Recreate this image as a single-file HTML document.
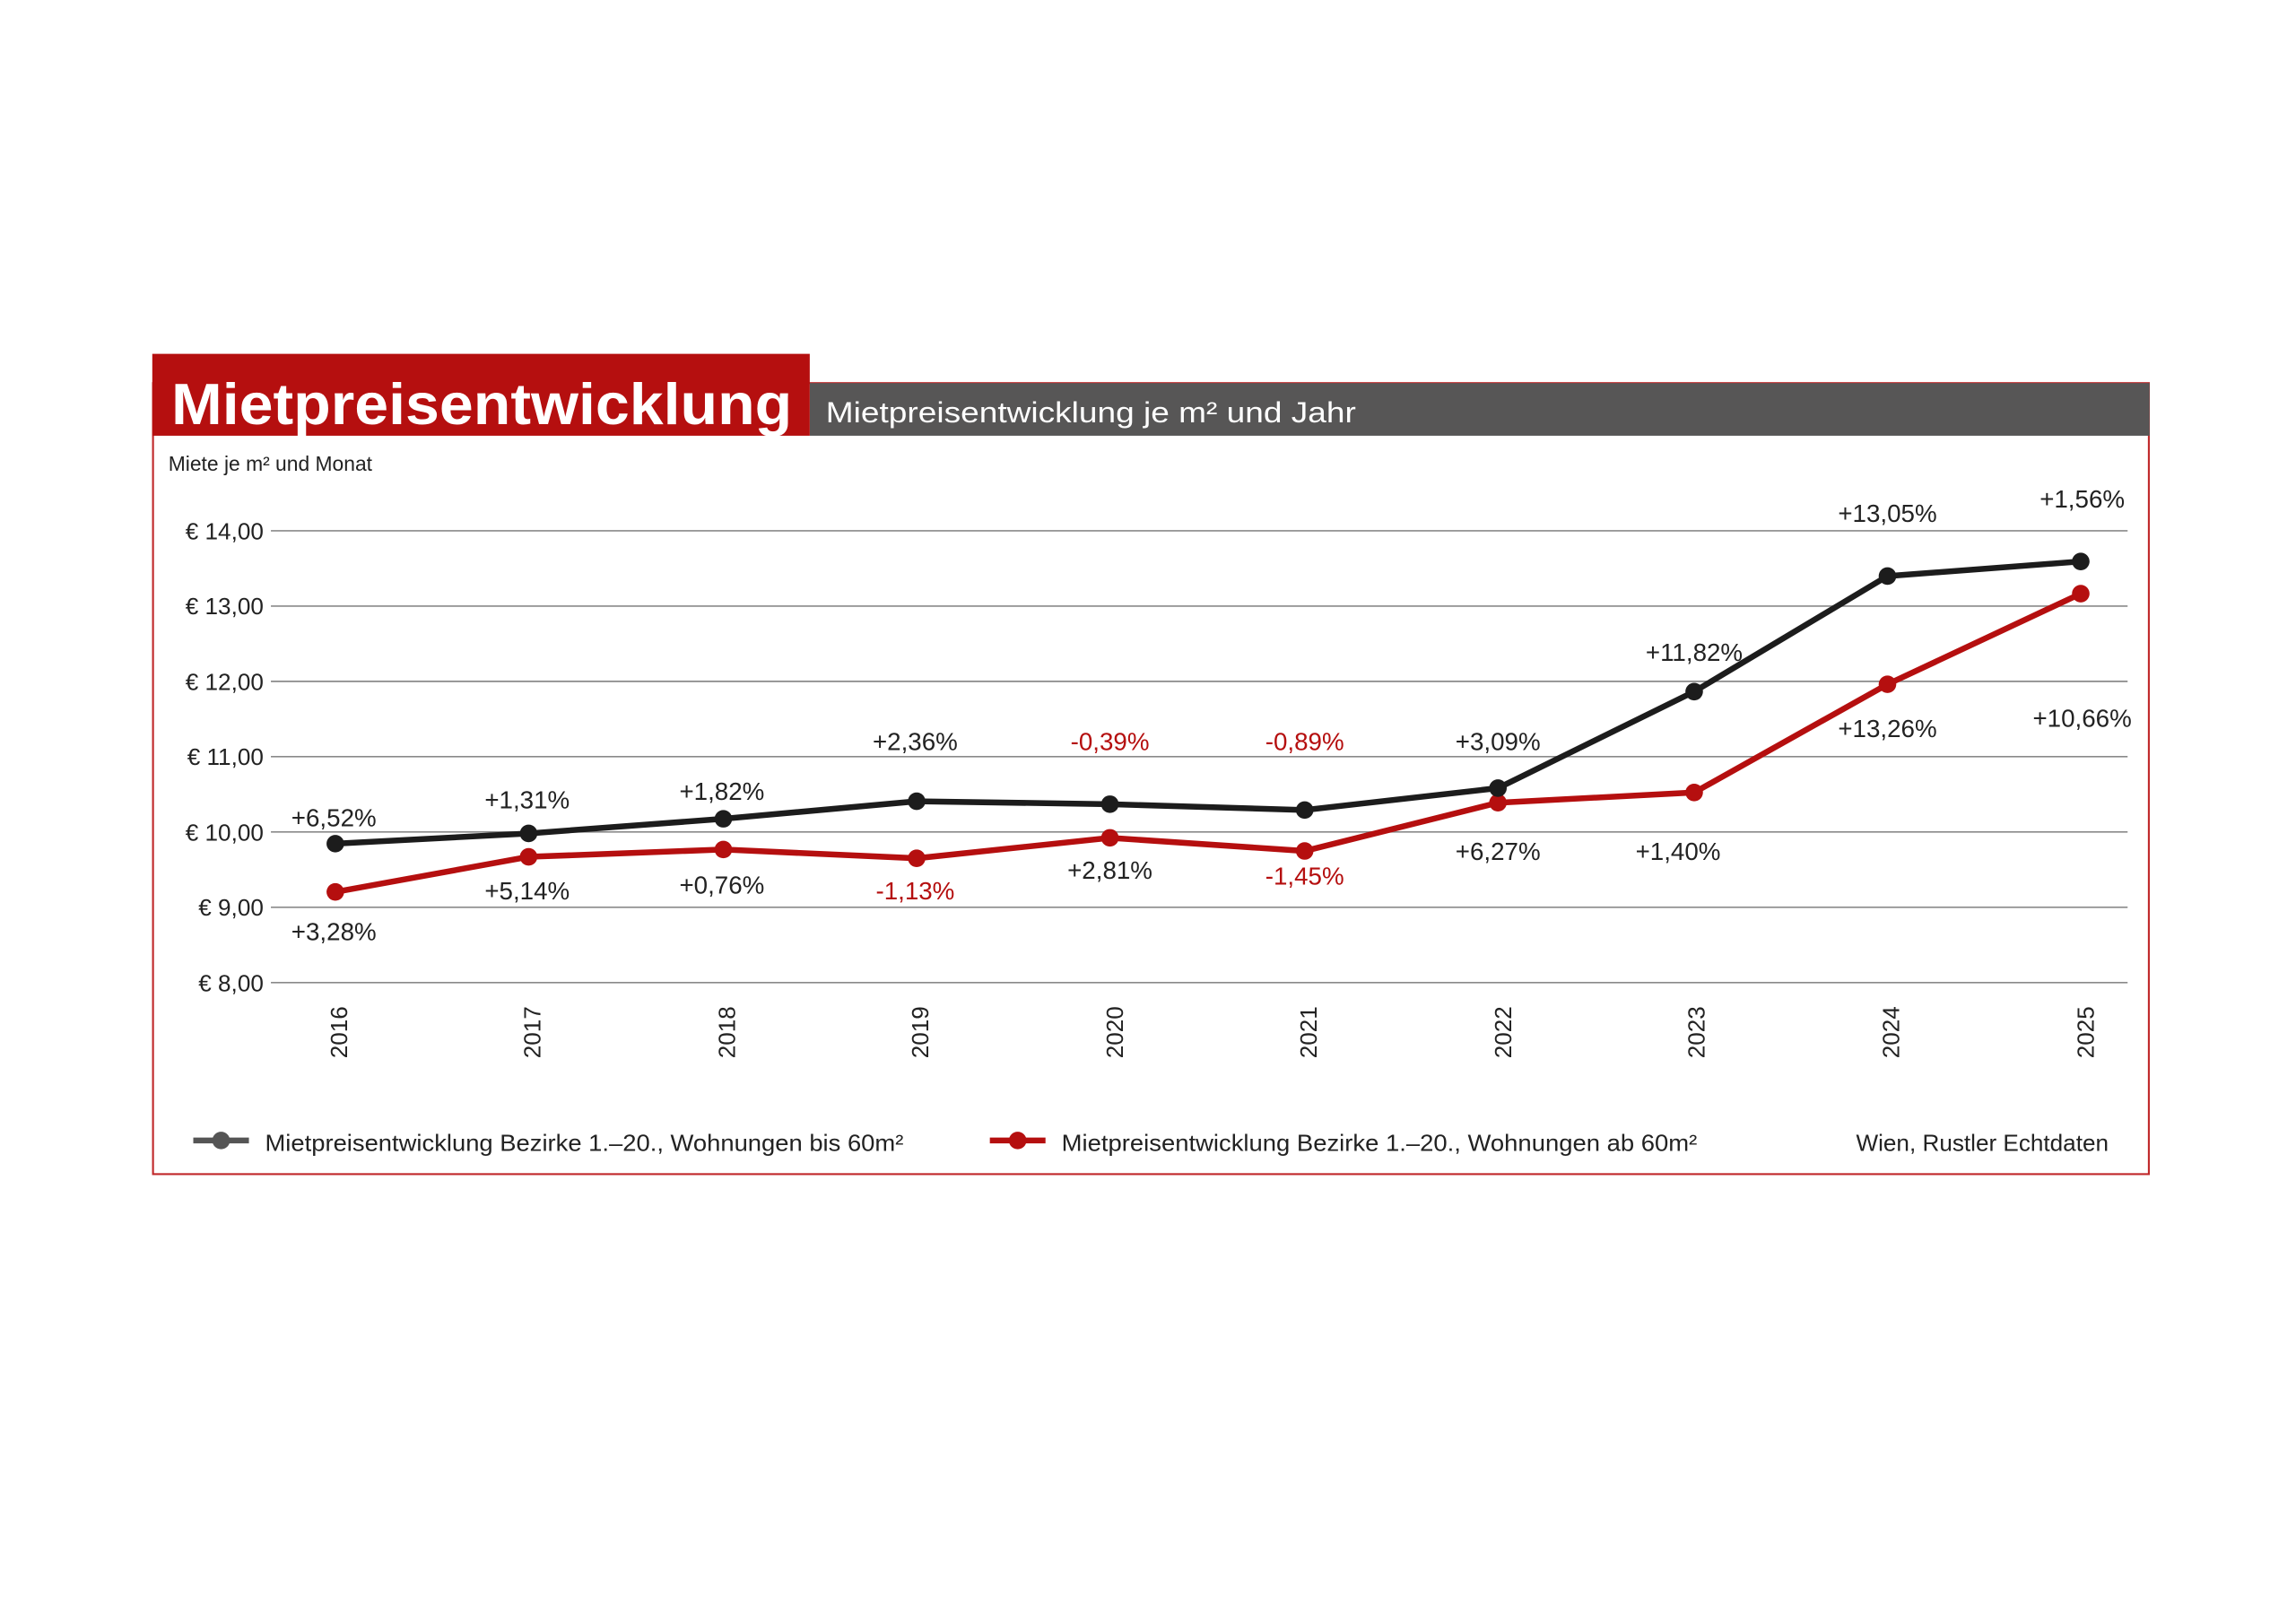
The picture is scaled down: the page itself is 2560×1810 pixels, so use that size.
<!DOCTYPE html>
<html><head><meta charset="utf-8"><style>
html,body{margin:0;padding:0;background:#fff;}
svg{display:block;}
text{font-family:"Liberation Sans",sans-serif;}
</style></head><body>
<svg width="2560" height="1810" viewBox="0 0 1568 1110" preserveAspectRatio="none" xmlns="http://www.w3.org/2000/svg">
<rect x="0" y="0" width="1568" height="1110" fill="#fff"/>
<rect x="104.5" y="262" width="1363" height="541" fill="none" stroke="#c0282a" stroke-width="1.3"/>
<rect x="553" y="262" width="915" height="36" fill="#575656"/>
<rect x="104" y="242" width="449" height="56" fill="#b50f0f"/>
<text x="117" y="290" font-size="40" font-weight="bold" fill="#fff" textLength="424" lengthAdjust="spacingAndGlyphs">Mietpreisentwicklung</text>
<text x="564" y="289" font-size="20" fill="#fff" textLength="362" lengthAdjust="spacingAndGlyphs">Mietpreisentwicklung je m² und Jahr</text>
<text x="115" y="322" font-size="14" fill="#222">Miete je m² und Monat</text>
<g stroke="#8a8a8a" stroke-width="1">
<line x1="185" y1="363" x2="1453" y2="363"/>
<line x1="185" y1="414.5" x2="1453" y2="414.5"/>
<line x1="185" y1="466" x2="1453" y2="466"/>
<line x1="185" y1="517.5" x2="1453" y2="517.5"/>
<line x1="185" y1="569" x2="1453" y2="569"/>
<line x1="185" y1="620.5" x2="1453" y2="620.5"/>
<line x1="185" y1="672" x2="1453" y2="672"/>
</g>
<g font-size="16" fill="#222" text-anchor="end">
<text x="180" y="369">€ 14,00</text>
<text x="180" y="420">€ 13,00</text>
<text x="180" y="472">€ 12,00</text>
<text x="180" y="523">€ 11,00</text>
<text x="180" y="575">€ 10,00</text>
<text x="180" y="626">€ 9,00</text>
<text x="180" y="678">€ 8,00</text>
</g>
<g font-size="16" fill="#222" text-anchor="middle">
<text transform="translate(237,706) rotate(-90)">2016</text>
<text transform="translate(369,706) rotate(-90)">2017</text>
<text transform="translate(502,706) rotate(-90)">2018</text>
<text transform="translate(634,706) rotate(-90)">2019</text>
<text transform="translate(767,706) rotate(-90)">2020</text>
<text transform="translate(899,706) rotate(-90)">2021</text>
<text transform="translate(1032,706) rotate(-90)">2022</text>
<text transform="translate(1164,706) rotate(-90)">2023</text>
<text transform="translate(1297,706) rotate(-90)">2024</text>
<text transform="translate(1430,706) rotate(-90)">2025</text>
</g>
<polyline fill="none" stroke="#b50f0f" stroke-width="4" points="229,610 361,586 494,581 626,587 758,573 891,582 1023,549 1157,542 1289,468 1421,406"/>
<g fill="#b50f0f">
<circle cx="229" cy="610" r="6"/><circle cx="361" cy="586" r="6"/><circle cx="494" cy="581" r="6"/><circle cx="626" cy="587" r="6"/><circle cx="758" cy="573" r="6"/><circle cx="891" cy="582" r="6"/><circle cx="1023" cy="549" r="6"/><circle cx="1157" cy="542" r="6"/><circle cx="1289" cy="468" r="6"/><circle cx="1421" cy="406" r="6"/>
</g>
<polyline fill="none" stroke="#1c1c1c" stroke-width="4" points="229,577 361,570 494,560 626,548 758,550 891,554 1023,539 1157,473 1289,394 1421,384"/>
<g fill="#1c1c1c">
<circle cx="229" cy="577" r="6"/><circle cx="361" cy="570" r="6"/><circle cx="494" cy="560" r="6"/><circle cx="626" cy="548" r="6"/><circle cx="758" cy="550" r="6"/><circle cx="891" cy="554" r="6"/><circle cx="1023" cy="539" r="6"/><circle cx="1157" cy="473" r="6"/><circle cx="1289" cy="394" r="6"/><circle cx="1421" cy="384" r="6"/>
</g>
<g font-size="17" fill="#222" text-anchor="middle">
<text x="228" y="565">+6,52%</text>
<text x="360" y="553">+1,31%</text>
<text x="493" y="547">+1,82%</text>
<text x="625" y="513">+2,36%</text>
<text x="758" y="513" fill="#b50f0f">-0,39%</text>
<text x="891" y="513" fill="#b50f0f">-0,89%</text>
<text x="1023" y="513">+3,09%</text>
<text x="1157" y="452">+11,82%</text>
<text x="1289" y="357">+13,05%</text>
<text x="1422" y="347">+1,56%</text>
<text x="228" y="643">+3,28%</text>
<text x="360" y="615">+5,14%</text>
<text x="493" y="611">+0,76%</text>
<text x="625" y="615" fill="#b50f0f">-1,13%</text>
<text x="758" y="601">+2,81%</text>
<text x="891" y="605" fill="#b50f0f">-1,45%</text>
<text x="1023" y="588">+6,27%</text>
<text x="1146" y="588">+1,40%</text>
<text x="1289" y="504">+13,26%</text>
<text x="1422" y="497">+10,66%</text>
</g>
<line x1="132" y1="780" x2="170" y2="780" stroke="#555" stroke-width="4"/>
<circle cx="151" cy="780" r="6" fill="#555"/>
<text x="181" y="787" font-size="16" fill="#222" textLength="436" lengthAdjust="spacingAndGlyphs">Mietpreisentwicklung Bezirke 1.–20., Wohnungen bis 60m²</text>
<line x1="676" y1="780" x2="714" y2="780" stroke="#b50f0f" stroke-width="4"/>
<circle cx="695" cy="780" r="6" fill="#b50f0f"/>
<text x="725" y="787" font-size="16" fill="#222" textLength="434" lengthAdjust="spacingAndGlyphs">Mietpreisentwicklung Bezirke 1.–20., Wohnungen ab 60m²</text>
<text x="1440" y="787" font-size="16" fill="#222" text-anchor="end">Wien, Rustler Echtdaten</text>
</svg>
</body></html>
